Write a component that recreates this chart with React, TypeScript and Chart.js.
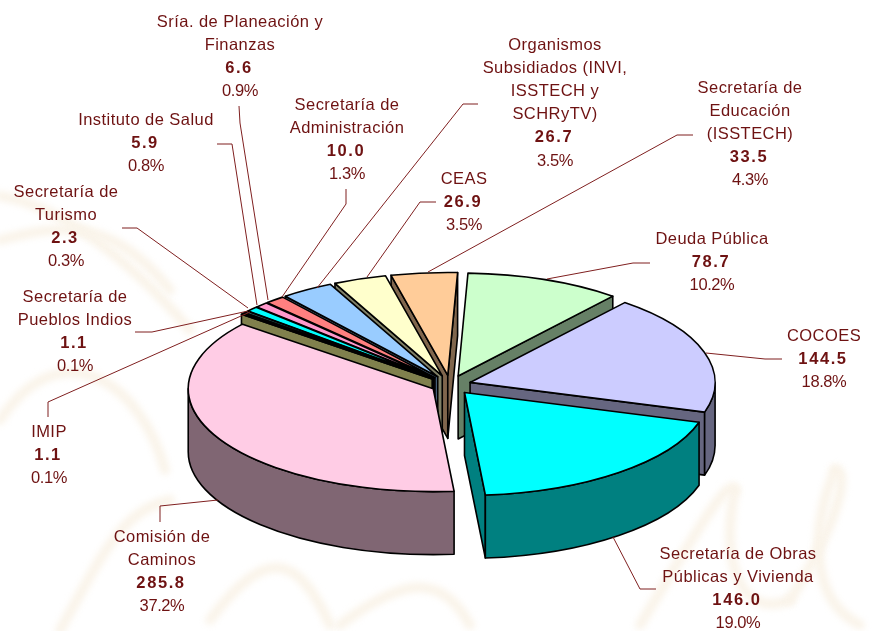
import React, { useEffect, useRef } from "react";
import { Chart, registerables } from "chart.js";

Chart.register(...registerables);

const categories = [
  ["Deuda Pública"],
  ["COCOES"],
  ["Secretaría de Obras", "Públicas y Vivienda"],
  ["Comisión de", "Caminos"],
  ["IMIP"],
  ["Secretaría de", "Pueblos Indios"],
  ["Secretaría de", "Turismo"],
  ["Instituto de Salud"],
  ["Sría. de Planeación y", "Finanzas"],
  ["Secretaría de", "Administración"],
  ["Organismos", "Subsidiados (INVI,", "ISSTECH y", "SCHRyTV)"],
  ["CEAS"],
  ["Secretaría de", "Educación", "(ISSTECH)"],
];
const values = [78.7, 144.5, 146.0, 285.8, 1.1, 1.1, 2.3, 5.9, 6.6, 10.0, 26.7, 26.9, 33.5];
const valueLabels = ["78.7", "144.5", "146.0", "285.8", "1.1", "1.1", "2.3", "5.9", "6.6", "10.0", "26.7", "26.9", "33.5"];
const percents = ["10.2%", "18.8%", "19.0%", "37.2%", "0.1%", "0.1%", "0.3%", "0.8%", "0.9%", "1.3%", "3.5%", "3.5%", "4.3%"];
const colors = ["#CCFFCC", "#CCCCFF", "#00FFFF", "#FFCCE5", "#FFFF99", "#808040", "#336666", "#00FFFF", "#FF99CC", "#FF8080", "#99CCFF", "#FFFFCC", "#FFCC99"];
const explode = [23, 21, 23, 19, 23, 23, 23, 23, 23, 23, 23, 23, 23];

// label layout: centre x, first line y (centre), line step
const labelX = [712, 824, 738, 162, 49, 75, 66, 146, 240, 347, 555, 464, 750];
const labelY = [239, 336, 554, 537, 432, 297, 192, 120, 22, 105, 45, 179, 88];
const leaders = [
  [[650, 263], [633, 263], [547, 279]],
  [[782, 359], [765, 359], [706, 353]],
  [[656, 589], [640, 589], [613, 537]],
  [[160, 522], [160, 506], [218, 500]],
  [[48, 417], [48, 402], [250, 312]],
  [[135, 332], [152, 332], [248, 311]],
  [[122, 228], [137, 228], [248, 308]],
  [[217, 144], [232, 144], [257, 305]],
  [[239, 106], [240, 123], [268, 300]],
  [[346, 189], [346, 204], [282, 297]],
  [[478, 104], [463, 104], [317, 288]],
  [[436, 202], [420, 202], [367, 277]],
  [[693, 135], [677, 135], [428, 272]],
];
const watermark = [
  [[0, 196], [60, 205], [130, 260], [190, 330]],
  [[0, 240], [60, 225], [110, 215], [170, 290]],
  [[0, 420], [60, 330], [140, 380], [165, 470]],
  [[60, 630], [100, 560], [120, 510], [170, 500]],
  [[210, 620], [270, 540], [300, 560], [330, 625]],
  [[340, 625], [400, 580], [440, 570], [470, 625]],
  [[640, 625], [680, 560], [730, 470], [735, 490]],
  [[735, 490], [720, 560], [740, 620], [790, 600]],
  [[790, 600], [840, 520], [850, 470], [835, 470]],
  [[835, 470], [810, 530], [810, 600], [860, 625]],
];

const SQUASH = 0.42;
const DEPTH = 63;
const RADIUS = 245;
const TEXT = "#6e1212";

function halfShade(hex: string) {
  const n = parseInt(hex.slice(1), 16);
  const c = [(n >> 16) & 255, (n >> 8) & 255, n & 255].map((v) => Math.round(v / 2));
  return `rgb(${c[0]},${c[1]},${c[2]})`;
}

const pie3d = {
  id: "pie3d",
  beforeDraw(chart: any) {
    const ctx = chart.ctx;
    ctx.save();
    ctx.strokeStyle = "#faf4ea";
    ctx.lineWidth = 10;
    ctx.lineCap = "round";
    (ctx as any).filter = "blur(3px)";
    watermark.forEach((p) => {
      ctx.beginPath();
      ctx.moveTo(p[0][0], p[0][1]);
      ctx.bezierCurveTo(p[1][0], p[1][1], p[2][0], p[2][1], p[3][0], p[3][1]);
      ctx.stroke();
    });
    ctx.restore();
  },
  beforeDatasetsDraw(chart: any) {
    const ctx = chart.ctx;
    const arcs = chart.getDatasetMeta(0).data;
    const order = arcs
      .map((a: any, i: number) => i)
      .sort((p: number, q: number) => {
        const m = (a: any) => (a.startAngle + a.endAngle) / 2;
        return Math.sin(m(arcs[p])) - Math.sin(m(arcs[q]));
      });
    order.forEach((i: number) => {
      const a = arcs[i];
      const mid = (a.startAngle + a.endAngle) / 2;
      const dx = Math.cos(mid) * explode[i];
      const dy = Math.sin(mid) * explode[i] * SQUASH;
      const cx = a.x + dx;
      const cy = a.y + dy;
      const rx = a.outerRadius;
      const ry = a.outerRadius * SQUASH;
      const s = a.startAngle;
      const e = a.endAngle;
      ctx.save();
      ctx.lineWidth = 1.6;
      ctx.lineJoin = "round";
      ctx.strokeStyle = "#000";
      ctx.fillStyle = halfShade(colors[i]);
      const edge = (ang: number) => {
        const ex = cx + Math.cos(ang) * rx;
        const ey = cy + Math.sin(ang) * ry;
        ctx.beginPath();
        ctx.moveTo(cx, cy);
        ctx.lineTo(ex, ey);
        ctx.lineTo(ex, ey + DEPTH);
        ctx.lineTo(cx, cy + DEPTH);
        ctx.closePath();
        ctx.fill();
        ctx.stroke();
      };
      if (Math.cos(s) < 0) edge(s);
      if (Math.cos(e) > 0) edge(e);
      const r0 = Math.max(s, 0);
      const r1 = Math.min(e, Math.PI);
      if (r1 > r0) {
        ctx.beginPath();
        ctx.ellipse(cx, cy, rx, ry, 0, r0, r1);
        ctx.ellipse(cx, cy + DEPTH, rx, ry, 0, r1, r0, true);
        ctx.closePath();
        ctx.fill();
        ctx.stroke();
      }
      // top face: the library's own arc, squashed into the tilted plane
      ctx.save();
      ctx.translate(cx, cy);
      ctx.scale(1, SQUASH);
      ctx.translate(-a.x, -a.y);
      a.draw(ctx);
      ctx.restore();
      ctx.beginPath();
      ctx.moveTo(cx, cy);
      ctx.ellipse(cx, cy, rx, ry, 0, s, e);
      ctx.closePath();
      ctx.stroke();
      ctx.restore();
    });
    return false;
  },
  afterDraw(chart: any) {
    const ctx = chart.ctx;
    ctx.save();
    ctx.strokeStyle = "#7f1f1f";
    ctx.lineWidth = 1;
    leaders.forEach((l) => {
      ctx.beginPath();
      ctx.moveTo(l[0][0], l[0][1]);
      l.slice(1).forEach((p) => ctx.lineTo(p[0], p[1]));
      ctx.stroke();
    });
    ctx.fillStyle = TEXT;
    ctx.textAlign = "center";
    ctx.textBaseline = "middle";
    categories.forEach((lines, i) => {
      let y = labelY[i];
      ctx.font = '16.5px "Liberation Sans"';
      (ctx as any).letterSpacing = "0.45px";
      lines.forEach((t) => {
        ctx.fillText(t, labelX[i], y);
        y += 23.2;
      });
      ctx.font = 'bold 16.5px "Liberation Sans"';
      (ctx as any).letterSpacing = "1.6px";
      ctx.fillText(valueLabels[i], labelX[i] - 1, y);
      y += 23.2;
      ctx.font = '16.5px "Liberation Sans"';
      (ctx as any).letterSpacing = "-0.4px";
      ctx.fillText(percents[i], labelX[i], y);
    });
    ctx.restore();
  },
};

export default function App() {
  const ref = useRef<HTMLCanvasElement>(null);
  useEffect(() => {
    const chart = new Chart(ref.current as HTMLCanvasElement, {
      type: "pie",
      data: {
        labels: categories.map((c) => c.join(" ")),
        datasets: [
          {
            data: values,
            backgroundColor: colors,
            borderWidth: 0,
          },
        ],
      },
      options: {
        responsive: false,
        animation: false,
        rotation: 2.3,
        radius: RADIUS,
        layout: { padding: { left: 27, top: 139 } },
        plugins: { legend: { display: false }, tooltip: { enabled: false } },
        events: [],
      },
      plugins: [pie3d],
    } as any);
    return () => chart.destroy();
  }, []);
  return (
    <div style={{ position: "fixed", left: 0, top: 0, width: 873, height: 631, background: "#fff" }}>
      <canvas ref={ref} width={873} height={631} style={{ display: "block" }} />
    </div>
  );
}
